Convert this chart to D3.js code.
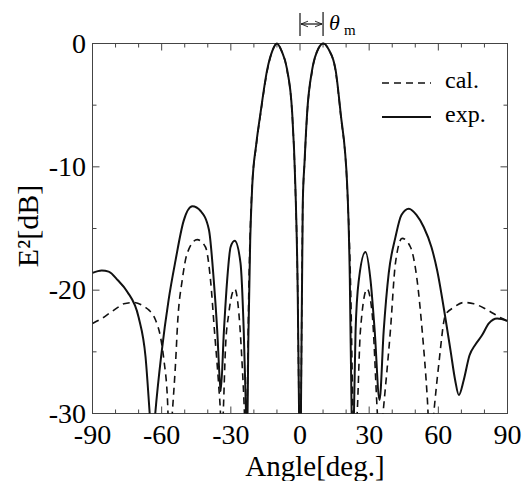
<!DOCTYPE html>
<html>
<head>
<meta charset="utf-8">
<script src="https://cdn.jsdelivr.net/npm/d3@7"></script>
<style>
  body { margin: 0; background: #fff; }
</style>
</head>
<body>
<div id="chart"></div>
<script>
// measured pattern (solid) and calculated pattern (dashed), [angle deg, dB]
var expData = [
  [-90,-18.6],[-86,-18.4],[-83,-18.5],[-79,-19.2],[-75,-20.1],[-70,-22.2],[-67,-25.4],[-65,-30.5],[-64,-33],
  [-63,-30.5],[-60,-25],[-57,-20.8],[-54,-17.6],[-50.5,-14.4],[-46.7,-13.2],[-43,-13.6],[-39.5,-15.1],
  [-37.4,-19.2],[-35.9,-23.3],[-34.8,-27.3],[-34.4,-28.2],[-33,-23.3],[-31.6,-19.2],[-30.1,-16.5],
  [-28.3,-16.0],[-25.8,-17.8],[-24.4,-23.3],[-23.4,-30],[-23.0,-33],[-22.4,-24],[-21.6,-16],[-20.7,-11.5],
  [-19,-8.2],[-17.1,-5.6],[-14.2,-2.1],[-12,-0.6],[-10,0],[-8,-0.6],[-5.6,-2.1],[-3.4,-5.6],[-2,-11.6],
  [-1,-20],[-0.4,-30],[0,-34],[0.4,-30],[1.2,-13],[2.0,-9.5],[3.1,-5.6],[5.3,-2.1],[8,-0.4],[10.2,0],
  [12.5,-0.5],[15.4,-2.1],[17.6,-5.6],[20.5,-11.6],[21.6,-19],[22.4,-30],[22.8,-33],[23.4,-30],
  [24.1,-23.3],[25.5,-19.2],[28.4,-16.9],[30.6,-19.2],[32.4,-23.3],[34.5,-28.9],[36.3,-23.3],
  [38.5,-18.6],[41.4,-15.7],[44,-13.9],[47.2,-13.4],[50.5,-13.9],[53.7,-14.9],[57,-16.5],[59.5,-18.4],
  [63.1,-22.3],[65.3,-24.9],[67.3,-27.3],[68.9,-28.5],[71,-27.3],[73.5,-25.3],[76.1,-24.4],[78.8,-23.7],
  [81.9,-22.7],[85.5,-22.3],[90,-22.5]
];
var calData = [
  [-90,-22.7],[-86,-22.3],[-82.9,-21.9],[-79,-21.4],[-76.4,-21.1],[-72.1,-21],[-67,-21.4],[-65.6,-21.6],
  [-62.7,-22.4],[-60.5,-23.8],[-59,-25.7],[-57.6,-28.4],[-56.5,-33],[-55.4,-30],[-54,-26],[-53,-22.4],
  [-51.1,-19.2],[-48.9,-17],[-44.6,-15.9],[-41,-16.5],[-38.8,-19.2],[-37.1,-23.3],[-35.2,-27.9],
  [-34.5,-30],[-34,-33],[-33.3,-30],[-32.3,-24.6],[-30.9,-21.9],[-28.3,-19.9],[-26.5,-21.9],[-25.1,-26],
  [-24.1,-30],[-23.6,-33],[-23,-30],[-22.2,-20],[-20.9,-12],[-19,-8.3],[-17.1,-5.7],[-14.2,-2.2],
  [-12,-0.6],[-10,0],[-8,-0.6],[-5.6,-2.2],[-3.4,-5.7],[-2,-11.8],[-1,-20],[-0.4,-30],[0,-34],[0.4,-30],
  [1.2,-13],[2.0,-9.6],[3.1,-5.7],[5.3,-2.2],[8,-0.4],[10,0],[12.5,-0.5],[15.4,-2.2],[17.6,-5.7],
  [20.5,-11.8],[22,-20],[23,-30],[23.8,-33],[24.8,-30],[26.2,-23.3],[29.1,-19.9],[31.3,-21.9],
  [33.5,-29.8],[34.5,-33],[36,-30],[39.2,-23.3],[41.4,-17.8],[44.3,-15.8],[47.9,-16.5],[50.8,-19.2],
  [53,-23.3],[55.2,-28.7],[56.5,-33],[58,-30],[60.2,-26],[63.1,-22],[66.7,-21.4],[71,-21],[75.4,-21.1],
  [81.2,-21.6],[87.7,-22.3],[90,-22.5]
];
var xTicks = [-90, -60, -30, 0, 30, 60, 90];
var yTicks = [0, -10, -20, -30];
var legendLabels = ["cal.", "exp."];
var thetaM = 10;

var width = 526, height = 481;
var svg = d3.select("#chart").append("svg")
    .attr("width", width)
    .attr("height", height)
    .style("font-family", "'Liberation Serif', 'DejaVu Serif', serif");

var x = d3.scaleLinear().domain([-90, 90]).range([92.5, 507.5]);
var y = d3.scaleLinear().domain([-30, 0]).range([413.5, 43.5]);

svg.append("clipPath").attr("id", "plotclip")
  .append("rect")
    .attr("x", x(-90)).attr("y", y(0) - 2)
    .attr("width", x(90) - x(-90)).attr("height", y(-30) - y(0) + 2);

// frame
svg.append("rect")
    .attr("x", x(-90)).attr("y", y(0))
    .attr("width", x(90) - x(-90)).attr("height", y(-30) - y(0))
    .attr("fill", "none").attr("stroke", "#444").attr("stroke-width", 1);

// inward ticks on four sides
var xMinor = d3.range(-90, 91, 10);
var yMinor = d3.range(-30, 0.1, 5);
var tickG = svg.append("g").attr("stroke", "#444").attr("stroke-width", 1);
xMinor.forEach(function(v) {
  var len = (v % 30 === 0) ? 7 : 4;
  tickG.append("line").attr("x1", x(v)).attr("x2", x(v)).attr("y1", y(-30)).attr("y2", y(-30) - len);
  tickG.append("line").attr("x1", x(v)).attr("x2", x(v)).attr("y1", y(0)).attr("y2", y(0) + len);
});
yMinor.forEach(function(v) {
  var len = (v % 10 === 0) ? 7 : 4;
  tickG.append("line").attr("x1", x(-90)).attr("x2", x(-90) + len).attr("y1", y(v)).attr("y2", y(v));
  tickG.append("line").attr("x1", x(90)).attr("x2", x(90) - len).attr("y1", y(v)).attr("y2", y(v));
});

// tick labels
svg.append("g").selectAll("text")
  .data(xTicks).enter().append("text")
    .attr("x", function(d) { return x(d); })
    .attr("y", 444)
    .attr("text-anchor", "middle")
    .style("font-size", "28px")
    .text(function(d) { return d; });

svg.append("g").selectAll("text")
  .data(yTicks).enter().append("text")
    .attr("x", 86)
    .attr("y", function(d) { return y(d) + 9; })
    .attr("text-anchor", "end")
    .style("font-size", "28px")
    .text(function(d) { return d; });

// axis titles
svg.append("text")
    .attr("x", 315).attr("y", 476)
    .attr("text-anchor", "middle")
    .style("font-size", "29px")
    .text("Angle[deg.]");

svg.append("text")
    .attr("transform", "translate(38,226) rotate(-90)")
    .attr("text-anchor", "middle")
    .style("font-size", "30px")
    .text("E²[dB]");

// curves
var line = d3.line()
    .x(function(d) { return x(d[0]); })
    .y(function(d) { return y(d[1]); })
    .curve(d3.curveMonotoneX);

var plot = svg.append("g").attr("clip-path", "url(#plotclip)");
plot.append("path")
    .datum(calData)
    .attr("d", line)
    .attr("fill", "none")
    .attr("stroke", "#111")
    .attr("stroke-width", 1.6)
    .attr("stroke-dasharray", "7,5");
plot.append("path")
    .datum(expData)
    .attr("d", line)
    .attr("fill", "none")
    .attr("stroke", "#111")
    .attr("stroke-width", 2);

// legend
var lg = svg.append("g");
[83, 117].forEach(function(ly, i) {
  lg.append("line")
    .attr("x1", 382).attr("x2", 431).attr("y1", ly).attr("y2", ly)
    .attr("stroke", "#111")
    .attr("stroke-width", i === 0 ? 1.6 : 2)
    .attr("stroke-dasharray", i === 0 ? "7,5" : null);
  lg.append("text")
    .attr("x", 445).attr("y", ly + 5)
    .style("font-size", "24px")
    .text(legendLabels[i]);
});

// theta_m marker
var defs = svg.append("defs");
defs.append("marker").attr("id", "arr")
    .attr("viewBox", "0 0 10 10").attr("refX", 10).attr("refY", 5)
    .attr("markerWidth", 6).attr("markerHeight", 6)
    .attr("orient", "auto-start-reverse")
  .append("path").attr("d", "M0,1 L10,5 L0,9").attr("fill", "none").attr("stroke", "#111").attr("stroke-width", 1.2);

var tm = svg.append("g").attr("stroke", "#111").attr("stroke-width", 1.2);
tm.append("line").attr("x1", x(0)).attr("x2", x(0)).attr("y1", 13).attr("y2", 36);
tm.append("line").attr("x1", x(thetaM)).attr("x2", x(thetaM)).attr("y1", 12).attr("y2", 36);
tm.append("line").attr("x1", x(0) + 1).attr("x2", x(thetaM) - 1).attr("y1", 24).attr("y2", 24)
    .attr("marker-start", "url(#arr)").attr("marker-end", "url(#arr)");
svg.append("text")
    .attr("x", 329).attr("y", 30)
    .style("font-size", "22px").style("font-style", "italic")
    .text("θ");
svg.append("text")
    .attr("x", 344).attr("y", 35)
    .style("font-size", "15px")
    .text("m");
</script>
</body>
</html>
